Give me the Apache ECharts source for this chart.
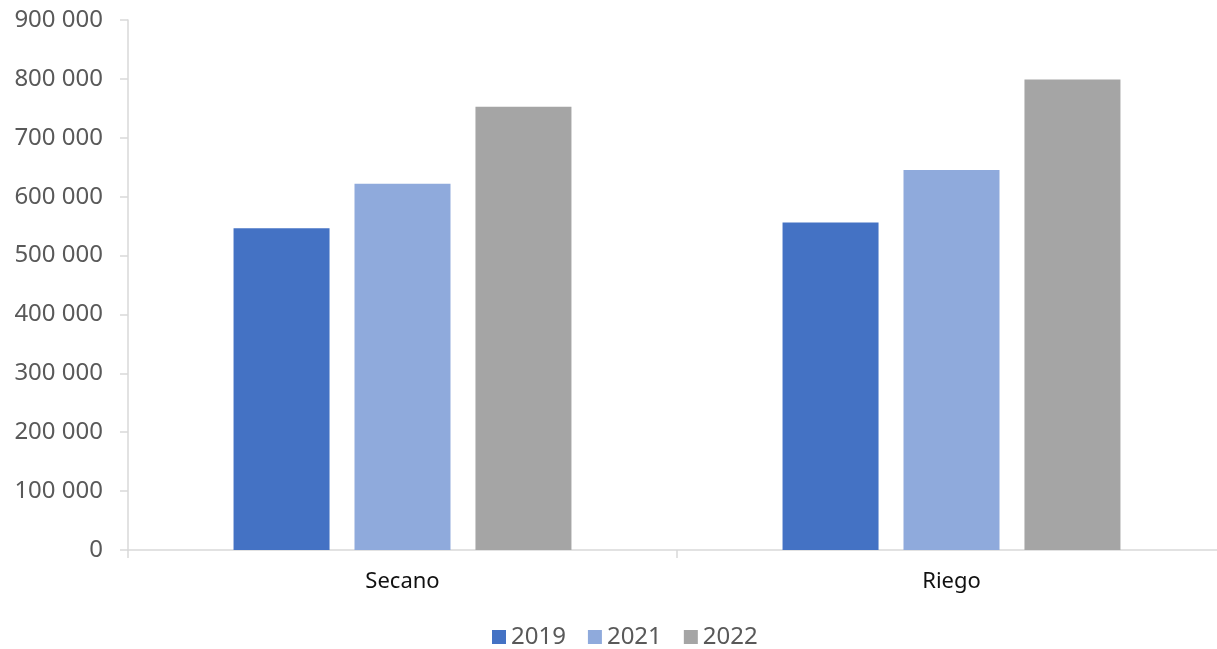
<!DOCTYPE html>
<html>
<head>
<meta charset="utf-8">
<script src="https://cdn.jsdelivr.net/npm/echarts@6/dist/echarts.min.js"></script>
<style>
  html, body { margin: 0; padding: 0; background: #fff; overflow: hidden; }
  #chart { width: 1226px; height: 649px; }
</style>
</head>
<body>
<div id="chart"></div>
<script>
const categories = ['Secano', 'Riego'];
const years = ['2019', '2021', '2022'];
const values2019 = [546500, 556300];
const values2021 = [622000, 645300];
const values2022 = [752500, 799000];
const colors = ['#4472C4', '#8FAADC', '#A5A5A5'];

const fontName = "'Noto Sans', 'Open Sans', sans-serif";

// the plot area runs a little past the right edge of the window
const myChart = echarts.init(document.getElementById('chart'));
const option = {
  animation: false,
  grid: {
    left: 128,
    top: 20,
    right: 0,
    bottom: 99
  },
  legend: {
    top: 620,
    left: 487,
    itemWidth: 14,
    itemHeight: 14,
    itemGap: 22,
    icon: 'rect',
    textStyle: { fontSize: 24, color: '#595959', fontFamily: fontName }
  },
  xAxis: {
    type: 'category',
    data: categories,
    axisLine: { lineStyle: { color: '#D9D9D9', width: 1.5 } },
    axisTick: { show: true, length: 8, lineStyle: { color: '#D9D9D9', width: 1.5 } },
    axisLabel: { fontSize: 22, color: '#111', margin: 21, fontFamily: fontName }
  },
  yAxis: {
    type: 'value',
    min: 0,
    max: 900000,
    interval: 100000,
    splitLine: { show: false },
    axisLine: { show: true, lineStyle: { color: '#D9D9D9', width: 1.5 } },
    axisTick: { show: true, length: 8, lineStyle: { color: '#D9D9D9', width: 1.5 } },
    axisLabel: {
      fontSize: 24,
      color: '#595959',
      margin: 25,
      fontFamily: fontName,
      formatter: (v) => String(v).replace(/\B(?=(\d{3})+(?!\d))/g, ' ')
    }
  },
  series: [
    { name: years[0], type: 'bar', data: values2019, barWidth: 96, barGap: '26%', itemStyle: { color: colors[0] } },
    { name: years[1], type: 'bar', data: values2021, barWidth: 96, barGap: '26%', itemStyle: { color: colors[1] } },
    { name: years[2], type: 'bar', data: values2022, barWidth: 96, barGap: '26%', itemStyle: { color: colors[2] } }
  ]
};
myChart.setOption(option);
</script>
</body>
</html>
